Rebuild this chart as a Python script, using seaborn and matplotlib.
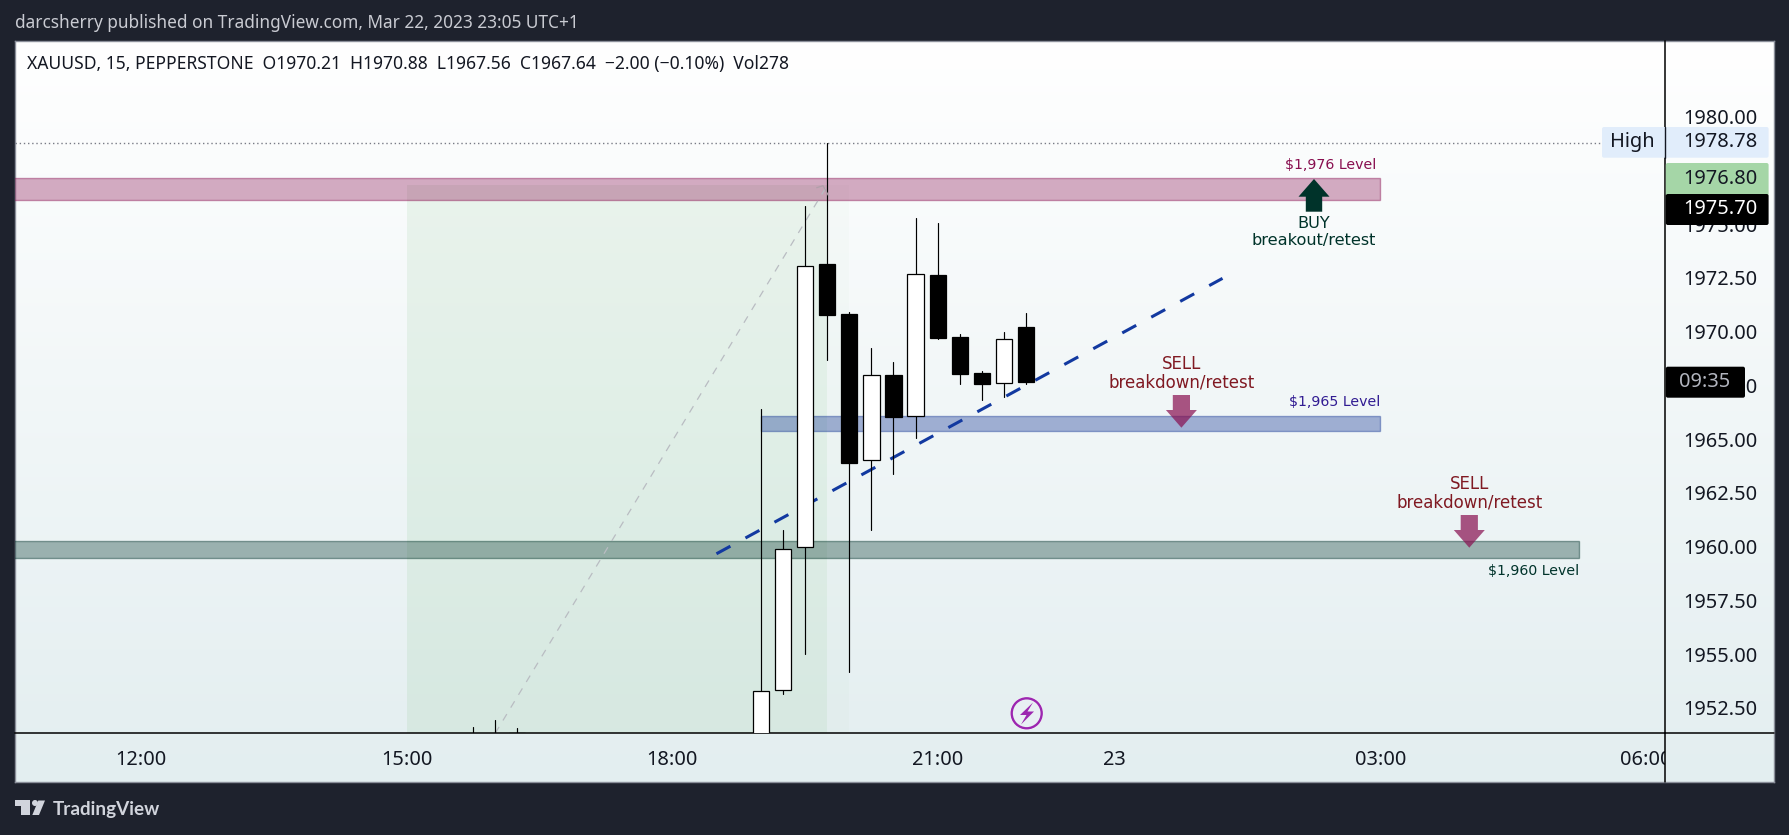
import numpy as np
import pandas as pd
import seaborn as sns
import matplotlib
matplotlib.use("Agg")
import matplotlib.pyplot as plt
from matplotlib.colors import to_rgba, to_rgb
from matplotlib.patches import Rectangle, Polygon, Circle, FancyBboxPatch
from matplotlib.transforms import Bbox

# Candles: slot = number of 15 minute bars after 12:00
slots = [15, 16, 17, 28, 29, 30, 31, 32, 33, 34, 35, 36, 37, 38, 39, 40]
opens = [1950.9, 1950.9, 1951.1, 1950.5, 1953.32, 1959.97, 1973.15, 1970.82, 1964.02, 1967.99, 1966.06, 1972.64, 1969.75, 1968.08, 1967.60, 1970.21]
highs = [1951.60, 1951.94, 1951.55, 1966.40, 1960.78, 1975.85, 1978.78, 1970.90, 1969.24, 1968.58, 1975.29, 1975.06, 1969.89, 1968.16, 1969.99, 1970.88]
lows = [1950.7, 1950.7, 1951.0, 1950.0, 1953.16, 1955.02, 1968.70, 1954.19, 1960.79, 1963.40, 1965.07, 1969.66, 1967.58, 1966.84, 1966.95, 1967.56]
closes = [1951.0, 1951.0, 1951.35, 1953.27, 1959.88, 1973.06, 1970.79, 1963.91, 1967.97, 1966.05, 1972.67, 1969.72, 1968.05, 1967.58, 1969.65, 1967.64]

# Levels: low, high, first slot, last slot
zone_low = [1976.11, 1965.40, 1959.46]
zone_high = [1977.14, 1966.08, 1960.25]
zone_start = [-6, 28, -6]
zone_end = [56, 56, 65]
zone_colors = ["#880e4f", "#1a3a96", "#00332a"]

trend_x = [26.0, 48.87]
trend_y = [1959.67, 1972.48]
position_x = [16, 31]
position_y = [1951.32, 1976.8]
position_top = 1976.8
high_price = 1978.78

y_ticks = [1952.5, 1955, 1957.5, 1960, 1962.5, 1965, 1967.5, 1970, 1972.5, 1975, 1980]
x_ticks = [0, 12, 24, 36, 44, 56, 68]
x_labels = ["12:00", "15:00", "18:00", "21:00", "23", "03:00", "06:00"]

W, H = 1789, 835
DARK = "#1e222d"
FONT = "Noto Sans"
NOTE_FONT = "DejaVu Sans"

sns.set_theme(style="white", rc={"font.family": FONT, "axes.facecolor": "none"})


def px_axes(fig, x0, y0, x1, y1, **kw):
    return fig.add_axes([x0 / W, 1 - y1 / H, (x1 - x0) / W, (y1 - y0) / H], **kw)


def arrow(ov, xc, tip, base, end, half_head, half_shaft, color, alpha=1.0):
    # tip -> head base -> shaft end, works both up and down
    pts = [(xc, tip), (xc + half_head, base), (xc + half_shaft, base), (xc + half_shaft, end),
           (xc - half_shaft, end), (xc - half_shaft, base), (xc - half_head, base)]
    ov.add_patch(Polygon(pts, closed=True, fc=color, ec="none", alpha=alpha))


def price_box(ov, x0, x1, y0, y1, color):
    ov.add_patch(FancyBboxPatch((x0, y0), x1 - x0, y1 - y0, boxstyle="round,pad=0,rounding_size=2",
                                fc=color, ec="none"))


fig = plt.figure(figsize=(W / 100, H / 100), dpi=100, facecolor=DARK)

# chart panel with its soft vertical gradient
bg = px_axes(fig, 15, 41, 1774, 782, zorder=0)
top, bottom = np.array(to_rgb("#ffffff")), np.array(to_rgb("#e3eef0"))
steps = np.linspace(0, 1, 256)[:, None, None]
bg.imshow(top + (bottom - top) * steps, aspect="auto", interpolation="bilinear")
bg.set_xticks([])
bg.set_yticks([])
for spine in bg.spines.values():
    spine.set_color("#8a8e99")
    spine.set_linewidth(1)

ax = px_axes(fig, 15, 41, 1665.3, 733.3, zorder=1)
ax.patch.set_alpha(0)

# long position box, behind everything
for end, alpha in [(32, 0.02), (31, 0.07)]:
    ax.add_patch(Rectangle((12, 1945), end - 12, position_top - 1945, fc=to_rgba("#4caf50", alpha), ec="none", zorder=1))

# levels
for low, high, start, end, color, alpha in zip(zone_low, zone_high, zone_start, zone_end, zone_colors, [0.34, 0.38, 0.34]):
    ax.add_patch(Rectangle((start, low), end - start, high - low, fc=to_rgba(color, alpha),
                           ec=to_rgba(color, 0.42), lw=1, zorder=1.5))

sns.lineplot(x=position_x, y=position_y, color="#b9bcc2", lw=0.9, linestyle=(0, (6, 6)), estimator=None, ax=ax, zorder=1.7)
sns.lineplot(x=trend_x, y=trend_y, color="#1239a0", lw=2.2, linestyle=(0, (5.2, 5.6)), dash_capstyle="butt",
             estimator=None, ax=ax, zorder=2)
ax.axhline(high_price, color="#787b86", lw=1, linestyle=(0, (1, 2)), zorder=1.8, xmax=(1601 - 15) / (1665.3 - 15))

# candles
candles = pd.DataFrame({"slot": slots, "open": opens, "high": highs, "low": lows, "close": closes})
wicks = candles.melt(id_vars="slot", value_vars=["high", "low"], value_name="price")
sns.lineplot(data=wicks, x="slot", y="price", units="slot", estimator=None, color="black", lw=0.85, ax=ax,
             legend=False, zorder=3)
candles["body"] = (candles["close"] - candles["open"]).abs()
candles["base"] = candles[["open", "close"]].min(axis=1)
up = candles[candles["close"] >= candles["open"]]
down = candles[candles["close"] < candles["open"]]
for part, face in [(up, "white"), (down, "black")]:
    sns.barplot(data=part, x="slot", y="body", bottom=part["base"].values, native_scale=True, width=0.74,
                color=face, saturation=1, edgecolor="black", linewidth=0.9, errorbar=None, ax=ax, zorder=4)

ax.set_xlim(-5.70, 68.88)
ax.set_ylim(1951.32, 1983.52)
ax.set_xlabel("")
ax.set_ylabel("")
ax.yaxis.tick_right()
ax.set_yticks(y_ticks, [f"{v:.2f}" for v in y_ticks])
ax.set_xticks(x_ticks, x_labels)
ax.tick_params(axis="y", length=0, pad=13, labelsize=14.4, labelcolor="#131722")
ax.tick_params(axis="x", length=0, pad=12, labelsize=14.4, labelcolor="#131722")
for lab, text in zip(ax.get_xticklabels(), x_labels):
    lab.set_clip_on(True)
    lab.set_clip_box(Bbox([[0, 0], [1665, H]]))
    if text == "23":
        lab.set_fontweight("bold")
for name, spine in ax.spines.items():
    spine.set_visible(name in ("right", "bottom"))
    spine.set_color("black")
    spine.set_linewidth(1.1)

# everything laid out in pixels on top
ov = px_axes(fig, 0, 0, W, H, zorder=3)
ov.set_xlim(0, W)
ov.set_ylim(H, 0)
ov.axis("off")

ov.plot([1665.3, 1665.3], [733, 782], color="black", lw=1.1)
ov.plot([1665.3, 1774], [733.3, 733.3], color="black", lw=1.1)

# tip of the position arrow
ov.plot([816.7, 823, 828.7], [187.7, 185.7, 196], color="#b0a0aa", lw=0.9)

ov.text(15, 23.5, "darcsherry published on TradingView.com, Mar 22, 2023 23:05 UTC+1", color="#c9cbd2", fontsize=12.4, va="center")
ov.text(27, 64, "XAUUSD, 15, PEPPERSTONE  O1970.21  H1970.88  L1967.56  C1967.64  \u22122.00 (\u22120.10%)  Vol278",
        color="#131722", fontsize=12.6, va="center")

# price axis labels
price_box(ov, 1602, 1768.6, 127, 157.7, "#e1edfb")
ov.plot([1665.3, 1665.3], [127, 157.7], color="#131722", lw=1)
ov.text(1632, 142, "High", color="#131722", fontsize=14.4, ha="center", va="center")
ov.text(1683, 142, "1978.78", color="#131722", fontsize=14.4, va="center")
price_box(ov, 1665.8, 1768.6, 163, 196, "#a5d6a7")
ov.text(1683, 178.5, "1976.80", color="#131722", fontsize=14.4, va="center")
price_box(ov, 1665.8, 1768.6, 194, 225, "black")
ov.text(1683, 209.5, "1975.70", color="white", fontsize=14.4, va="center")
price_box(ov, 1665.8, 1745, 366.7, 397.7, "black")
ov.text(1705, 382, "09:35", color="#b2b5be", fontsize=14.4, ha="center", va="center")

# annotations
ov.text(1376, 165, "$1,976 Level", color="#880e4f", fontsize=10.2, family=NOTE_FONT, ha="right", va="center")
ov.text(1380.6, 402, "$1,965 Level", color="#311b92", fontsize=10.2, family=NOTE_FONT, ha="right", va="center")
ov.text(1579, 571, "$1,960 Level", color="#00332a", fontsize=10.2, family=NOTE_FONT, ha="right", va="center")

arrow(ov, 1314, 179, 196.7, 211.7, 15.5, 8.2, "#00332a")
ov.text(1314, 223, "BUY", color="#00332a", fontsize=11.6, family=NOTE_FONT, ha="center", va="center")
ov.text(1314, 240.7, "breakout/retest", color="#00332a", fontsize=11.6, family=NOTE_FONT, ha="center", va="center")

for xc, tip, base, end, text_y in [(1181.4, 427.7, 410, 395, 364), (1469.3, 547.7, 530, 515, 484)]:
    arrow(ov, xc, tip, base, end, 15.5, 8.6, "#880e4f", alpha=0.7)
    ov.text(xc, text_y, "SELL", color="#801922", fontsize=12, family=NOTE_FONT, ha="center", va="center")
    ov.text(xc, text_y + 18.5, "breakdown/retest", color="#801922", fontsize=12, family=NOTE_FONT, ha="center", va="center")

# lightning icon
ov.add_patch(Circle((1026.7, 713.3), 16.5, fc="white", ec="none"))
ov.add_patch(Circle((1026.7, 713.3), 15, fc="#e8f0f3", ec="#9c27b0", lw=1.7))
ov.add_patch(Polygon([(1033, 702.5), (1020, 715), (1026.5, 715), (1021, 724.5), (1034, 711.5), (1027.5, 711.5)],
                     closed=True, fc="#9c27b0", ec="none"))

# footer
ov.text(53, 809.5, "TradingView", color="#d1d4dc", fontsize=13.6, family="Lato", fontweight="bold", va="center")
ov.add_patch(Polygon([(15, 800), (30, 800), (30, 815), (20.7, 815), (20.7, 805.7), (15, 805.7)], closed=True, fc="#d1d4dc", ec="none"))
ov.add_patch(Circle((35, 803), 3, fc="#d1d4dc", ec="none"))
ov.add_patch(Polygon([(32.3, 815), (38.3, 800.5), (45, 800.5), (39, 815)], closed=True, fc="#d1d4dc", ec="none"))

fig.savefig("out.png", dpi=100, facecolor=DARK)
